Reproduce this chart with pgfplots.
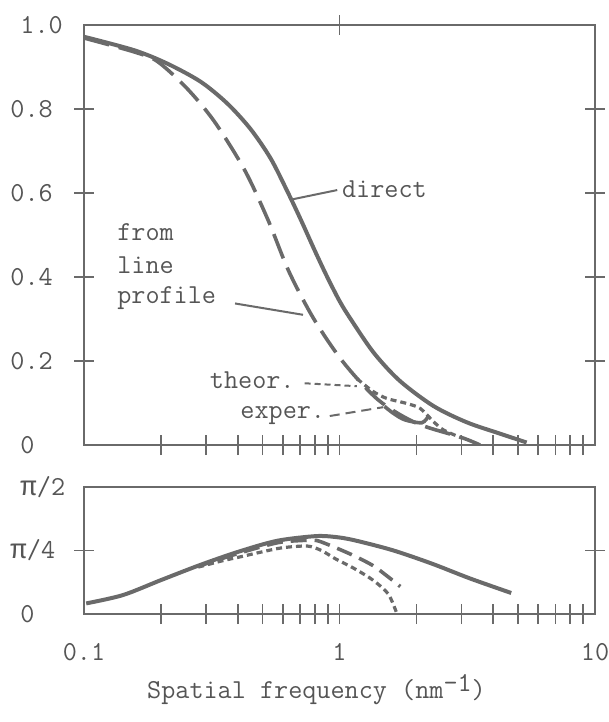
\documentclass[12pt,border=0pt]{standalone}
\usepackage{fontspec}
\newfontfamily\pifont{Liberation Mono}
\usepackage{pgfplots}
\pgfplotsset{compat=1.18}
\definecolor{ink}{HTML}{6A6A6A}
\definecolor{txt}{HTML}{555555}

\pgfplotstableread{
x y
0.1 0.972
0.157 0.940
0.212 0.908
0.286 0.865
0.364 0.813
0.449 0.752
0.538 0.682
0.625 0.604
0.705 0.537
0.80 0.463
0.892 0.402
1.0 0.343
1.10 0.302
1.36 0.220
1.72 0.153
2.33 0.093
3.15 0.054
4.25 0.027
5.4 0.006
}\directtab

\pgfplotstableread{
x y
0.1 0.969
0.157 0.936
0.194 0.913
0.253 0.849
0.324 0.770
0.425 0.655
0.525 0.536
0.634 0.413
0.794 0.300
1.035 0.197
1.42 0.107
2.0 0.052
3.0 0.018
3.55 0.0
}\profiletab

\pgfplotstableread{
x y
1.17 0.158
1.35 0.128
1.53 0.111
1.83 0.099
2.07 0.087
2.33 0.056
2.55 0.036
3.0 0.017
}\theortab

\pgfplotstableread{
x y
1.5 0.092
1.62 0.076
1.8 0.060
2.1 0.053
2.23 0.069
}\expertab

\pgfplotstableread{
x y
0.102 0.131
0.142 0.234
0.2 0.419
0.284 0.605
0.402 0.770
0.569 0.905
0.805 0.963
0.96 0.953
1.14 0.913
1.61 0.790
2.29 0.625
3.24 0.440
4.7 0.26
}\phdirect

\pgfplotstableread{
x y
0.28 0.59
0.4 0.748
0.569 0.88
0.72 0.91
0.81 0.91
0.9 0.86
1.0 0.80
1.14 0.72
1.35 0.60
1.55 0.46
1.73 0.34
}\phprofile

\pgfplotstableread{
x y
0.28 0.58
0.35 0.66
0.4 0.70
0.5 0.77
0.6 0.82
0.75 0.84
0.85 0.785
0.96 0.686
1.14 0.564
1.35 0.42
1.55 0.25
1.67 0.02
}\phtheor

\begin{document}
\fontsize{13.7pt}{16pt}\selectfont\ttfamily
\begin{tikzpicture}
\path[use as bounding box] (-42pt,-138.5pt) rectangle (262.5pt,222.5pt);
\pgfplotsset{
  every axis/.append style={
    scale only axis, width=255.5pt,
    xmode=log, xmin=0.1, xmax=10,
    axis line style={ink, line width=1pt},
    every tick/.style={ink, line width=0.9pt},
    tick align=center, major tick length=10pt,
    xtick={0.2,0.3,0.4,0.5,0.6,0.7,0.8,0.9,1,2,3,4,5,6,7,8,9},
    xticklabels={,,,,,,,,,,,,,,,,},
    xminorticks=false, yminorticks=false,
    xtick pos=left, ytick pos=both, yticklabel pos=left,
    tick label style={text=txt},
    yticklabel style={text width=22pt, align=left, xshift=-5pt},
    xticklabel style={yshift=-10pt},
    extra y tick style={major tick length=0pt},
    extra x tick style={major tick length=0pt},
    clip mode=individual,
  }
}
\begin{axis}[at={(0,0)}, anchor=south west, height=210pt,
  ymin=0, ymax=1,
  ytick={0.2,0.4,0.6,0.8}, yticklabels={0.2,0.4,0.6,0.8},
  extra y ticks={0,1}, extra y tick labels={0,1.0}]
\addplot[ink, line width=2pt, smooth] table {\directtab};
\addplot[ink, line width=1.8pt, smooth, dash pattern=on 13pt off 5pt] table {\profiletab};
\addplot[ink, line width=1.6pt, smooth, dash pattern=on 3pt off 2pt] table {\theortab};
\addplot[ink, line width=1.8pt, smooth] table {\expertab};
\draw[ink, line width=0.9pt] ([yshift=-5pt]axis cs:1,1) -- ([yshift=5pt]axis cs:1,1);
\node[anchor=west, inner sep=0pt, text=txt] at (axis cs:1.02,0.609) {direct};
\draw[ink, line width=1pt] (axis cs:0.655,0.585) -- (axis cs:0.98,0.607);
\node[anchor=west, inner sep=0pt, text=txt] at (axis cs:0.1345,0.508) {from};
\node[anchor=west, inner sep=0pt, text=txt] at (axis cs:0.1345,0.429) {line};
\node[anchor=west, inner sep=0pt, text=txt] at (axis cs:0.1345,0.349) {profile};
\draw[ink, line width=1pt] (axis cs:0.39,0.337) -- (axis cs:0.72,0.31);
\node[anchor=west, inner sep=0pt, text=txt] at (axis cs:0.31,0.155) {theor.};
\draw[ink, line width=1pt, dash pattern=on 3pt off 2pt] (axis cs:0.73,0.147) -- (axis cs:1.17,0.14);
\node[anchor=west, inner sep=0pt, text=txt] at (axis cs:0.408,0.071) {exper.};
\draw[ink, line width=1pt, dash pattern=on 5pt off 3pt] (axis cs:0.916,0.069) -- (axis cs:1.48,0.09);
\end{axis}

\begin{axis}[at={(0,-21pt)}, anchor=north west, height=63.5pt,
  ymin=0, ymax=1.5708,
  ytick={0.7854}, yticklabels={{\pifont π}/4},
  extra y ticks={0,1.5708}, extra y tick labels={0,{\pifont π}/2},
  extra x ticks={0.1,1,10}, extra x tick labels={0.1,1,10},
  xlabel={Spatial frequency (nm\raisebox{0.6ex}{-1})},
  xlabel style={at={(axis description cs:0.455,0)}, anchor=center, yshift=-38pt, text=txt}]
\addplot[ink, line width=2pt, smooth] table {\phdirect};
\addplot[ink, line width=1.8pt, smooth, dash pattern=on 8pt off 4pt] table {\phprofile};
\addplot[ink, line width=1.6pt, smooth, dash pattern=on 3pt off 2pt] table {\phtheor};
\end{axis}
\end{tikzpicture}
\end{document}
